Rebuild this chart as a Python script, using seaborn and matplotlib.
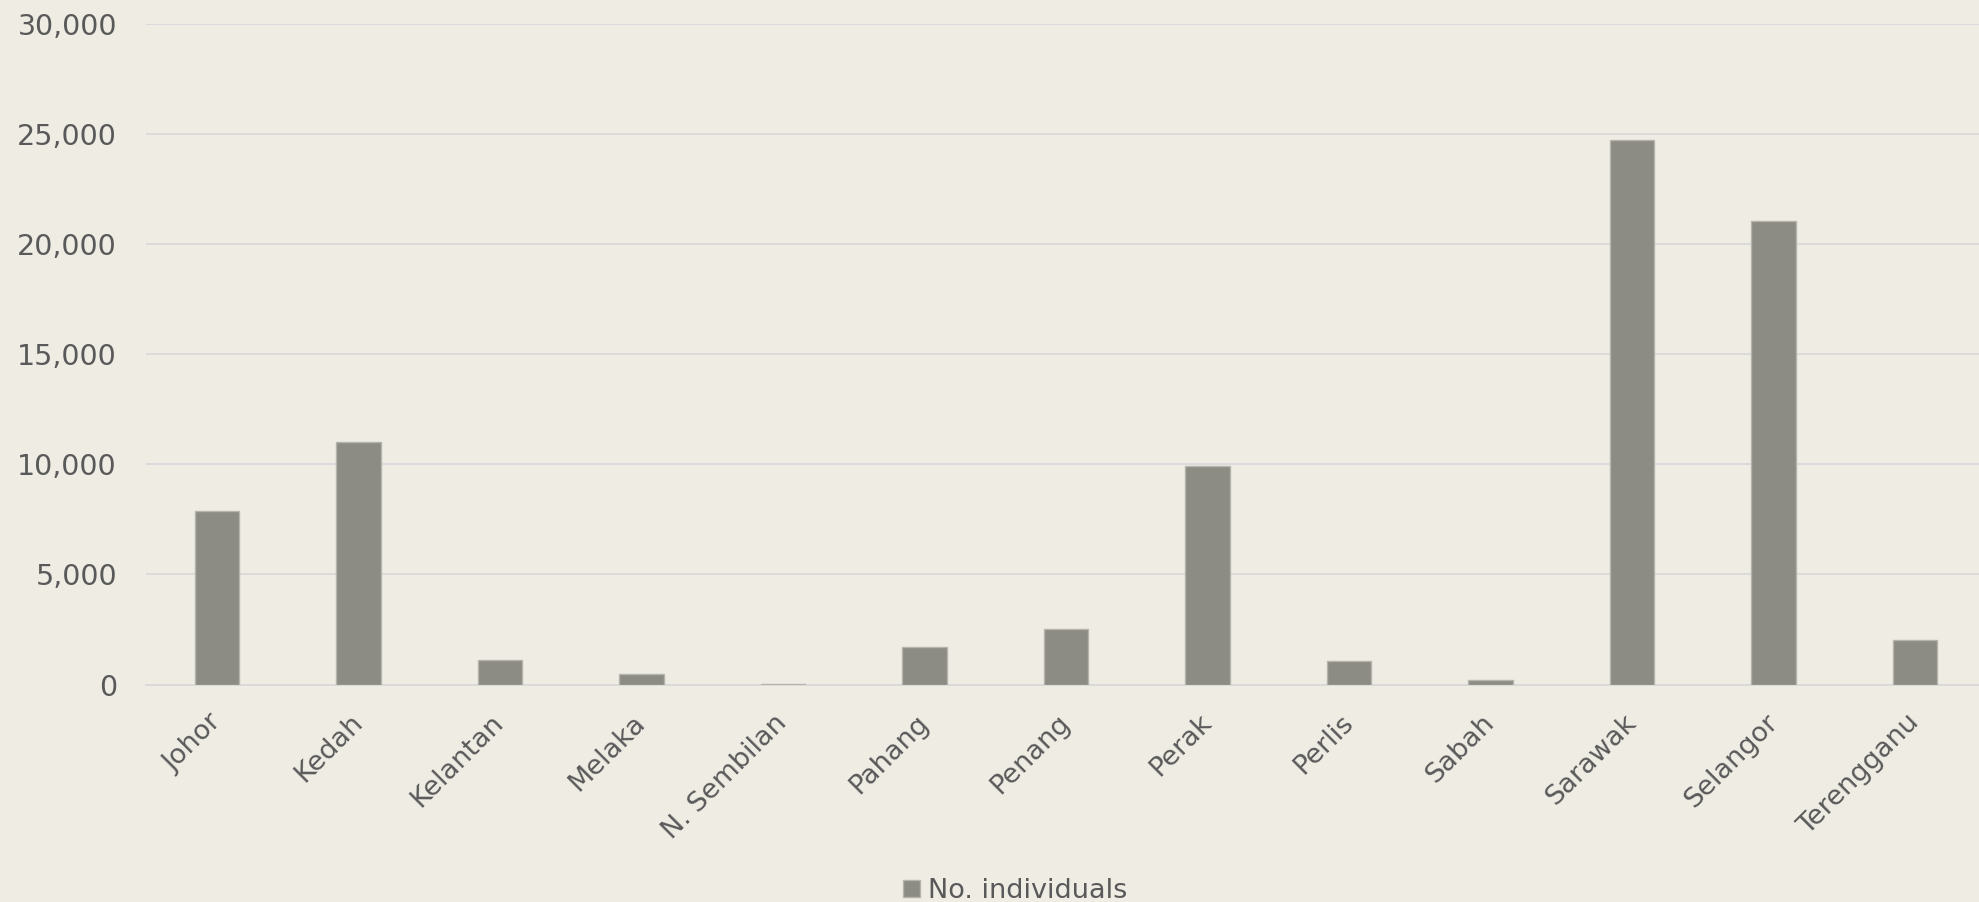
import matplotlib
matplotlib.use("Agg")
import matplotlib.pyplot as plt
import matplotlib.transforms as mtransforms
import seaborn as sns
import pandas as pd
from matplotlib.ticker import FuncFormatter

states = ["Johor", "Kedah", "Kelantan", "Melaka", "N. Sembilan", "Pahang", "Penang",
          "Perak", "Perlis", "Sabah", "Sarawak", "Selangor", "Terengganu"]
individuals = [7900, 11000, 1100, 500, 30, 1700, 2500, 9900, 1050, 200, 24700, 21050, 2000]
series_name = "No. individuals"
y_ticks = [0, 5000, 10000, 15000, 20000, 25000, 30000]

df = pd.DataFrame({"State": states, "Value": individuals})

bg = "#EFECE4"
bar_color = "#8C8C84"
grid_color = "#D9D9D9"
text_color = "#595959"

sns.set_theme(style="white")
plt.rcParams["font.family"] = ["DejaVu Sans"]

fig = plt.figure(figsize=(19.79, 9.02), dpi=100)
fig.patch.set_facecolor(bg)
ax = fig.add_axes([0.0738, 0.2411, 0.9297, 0.7326])
ax.set_facecolor(bg)

sns.barplot(data=df, x="State", y="Value", color=bar_color, width=0.315,
            edgecolor="#B4B4AC", linewidth=1.0, saturation=1, label=series_name, ax=ax, zorder=3)

ax.set_xlim(-0.5, len(states) - 0.5)
ax.set_ylim(0, 30000)
ax.set_yticks(y_ticks)
ax.yaxis.set_major_formatter(FuncFormatter(lambda v, p: f"{int(v):,}"))
ax.grid(axis="y", color=grid_color, linewidth=1.3, zorder=0)
ax.grid(axis="x", visible=False)
for s in ["top", "right", "left"]:
    ax.spines[s].set_visible(False)
ax.spines["bottom"].set_color(grid_color)
ax.spines["bottom"].set_linewidth(1.3)

ax.set_xlabel("")
ax.set_ylabel("")
ax.tick_params(axis="y", length=0, pad=21, labelsize=20.5, labelcolor=text_color)
ax.tick_params(axis="x", length=0, pad=16, labelsize=19.5, labelcolor=text_color)
offset = mtransforms.ScaledTranslation(-9 / 100, -3 / 100, fig.dpi_scale_trans)
for lbl in ax.get_xticklabels():
    lbl.set_rotation(45)
    lbl.set_ha("right")
    lbl.set_rotation_mode("anchor")
    lbl.set_transform(lbl.get_transform() + offset)

leg = ax.legend(loc="center", bbox_to_anchor=(0.513, 0.012), bbox_transform=fig.transFigure,
                frameon=False, fontsize=19.5, handlelength=0.6, handleheight=0.6,
                handletextpad=0.3, labelcolor=text_color)

fig.savefig("out.png", dpi=100, facecolor=bg)
